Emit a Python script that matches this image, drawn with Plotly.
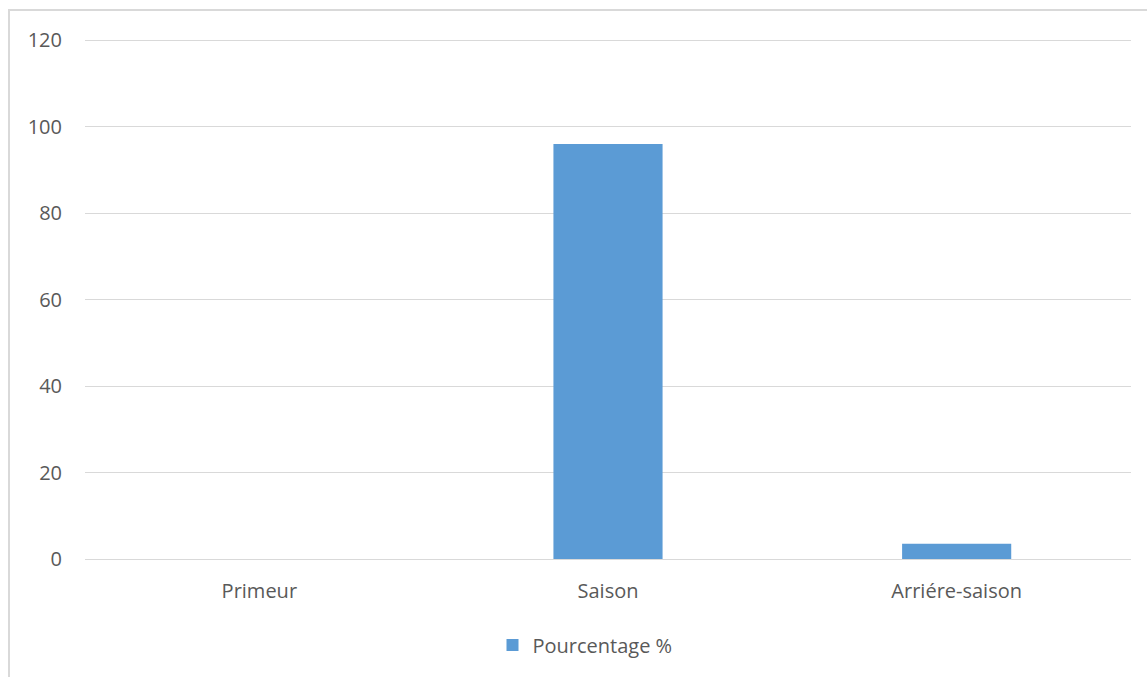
import plotly.graph_objects as go

categories = ["Primeur", "Saison", "Arriére-saison"]
pourcentage = [0, 96, 3.5]
y_ticks = [0, 20, 40, 60, 80, 100, 120]

W, H = 1147, 677
L, R, T, B = 85, 16, 36, 118
pw, ph = W - L - R, H - T - B

def px_x(x):
    return (x - L) / pw

def px_y(y):
    return (H - B - y) / ph

fig = go.Figure()
fig.add_trace(go.Bar(
    x=categories,
    y=pourcentage,
    name="Pourcentage %",
    marker=dict(color="#5b9bd5", line=dict(width=0)),
))

fig.update_layout(
    width=W,
    height=H,
    margin=dict(l=L, r=R, t=T, b=B),
    paper_bgcolor="white",
    plot_bgcolor="white",
    font=dict(family="Open Sans, sans-serif", size=20, color="#595959"),
    bargap=0.687,
    showlegend=True,
    legend=dict(
        orientation="h",
        x=px_x(585), xanchor="center",
        y=px_y(645), yanchor="middle",
        font=dict(size=20, color="#595959"),
        itemwidth=30,
    ),
    xaxis=dict(
        showgrid=False,
        showline=False,
        zeroline=False,
        ticks="",
        ticklabelstandoff=18,
    ),
    yaxis=dict(
        range=[0, 121],
        tickvals=y_ticks,
        showgrid=True,
        gridcolor="#d9d9d9",
        gridwidth=1,
        zeroline=True,
        zerolinecolor="#d9d9d9",
        zerolinewidth=1,
        showline=False,
        ticks="",
        ticklabelstandoff=22,
    ),
    shapes=[
        dict(
            type="rect", xref="paper", yref="paper",
            x0=px_x(9), x1=px_x(1170), y0=px_y(700), y1=px_y(10),
            line=dict(color="#d9d9d9", width=2),
            fillcolor="rgba(0,0,0,0)",
            layer="below",
        )
    ],
)

fig.write_html("out.html")
